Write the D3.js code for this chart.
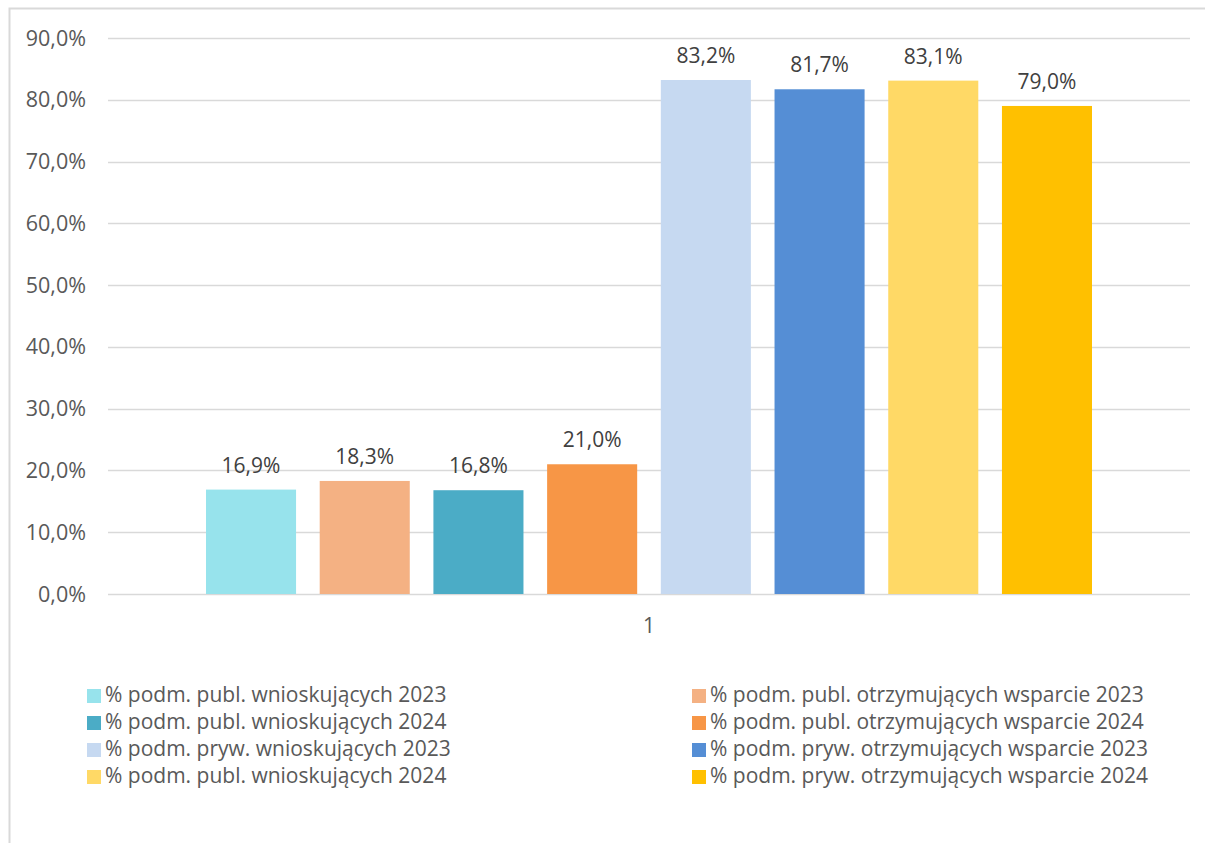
<!DOCTYPE html>
<html>
<head>
<meta charset="utf-8">
<script src="https://cdn.jsdelivr.net/npm/d3@7"></script>
<style>
  body { margin: 0; background: #fff; }
  text { font-family: "Open Sans", "Noto Sans", sans-serif; }
</style>
</head>
<body>
<div class="chart"></div>
<script>
// data
const categories = ["1"];
const seriesNames = [
  "% podm. publ. wnioskujących 2023",
  "% podm. publ. otrzymujących wsparcie 2023",
  "% podm. publ. wnioskujących 2024",
  "% podm. publ. otrzymujących wsparcie 2024",
  "% podm. pryw. wnioskujących 2023",
  "% podm. pryw. otrzymujących wsparcie 2023",
  "% podm. publ. wnioskujących 2024",
  "% podm. pryw. otrzymujących wsparcie 2024"
];
const seriesValues = [16.9, 18.3, 16.8, 21.0, 83.2, 81.7, 83.1, 79.0];
const seriesColors = ["#97e3ec", "#f4b183", "#4bacc6", "#f79646", "#c6d9f1", "#558ed5", "#ffd966", "#ffc000"];
const yTicks = [0, 10, 20, 30, 40, 50, 60, 70, 80, 90];

const width = 1205;
const height = 843;
const margin = { top: 38, bottom: 249, left: 108, right: 15 };
const fmt = v => v.toFixed(1).replace(".", ",") + "%";

const svg = d3.select('.chart')
  .append('svg')
  .attr('width', width)
  .attr('height', height);

// chart frame
svg.append("path")
  .attr("d", `M9.5,${height} V8.5 H${width}`)
  .attr("fill", "none")
  .attr("stroke", "#d9d9d9")
  .attr("stroke-width", 2);

const y = d3.scaleLinear()
  .domain([0, 90])
  .range([height - margin.bottom, margin.top]);

const x0 = d3.scaleBand()
  .domain(categories)
  .range([margin.left, width - margin.right]);

const x1 = d3.scaleBand()
  .domain(d3.range(seriesNames.length))
  .range([x0("1") + 98, x0("1") + 98 + 886])
  .paddingInner(0.208);

// gridlines
svg.append("g")
  .selectAll("line")
  .data(yTicks)
  .join("line")
  .attr("x1", margin.left)
  .attr("x2", width - margin.right)
  .attr("y1", d => Math.round(y(d)) + 0.5)
  .attr("y2", d => Math.round(y(d)) + 0.5)
  .attr("stroke", "#d9d9d9")
  .attr("stroke-width", 1.5);

// y axis labels
svg.append("g")
  .selectAll("text")
  .data(yTicks)
  .join("text")
  .attr("x", 86)
  .attr("y", d => y(d) + 7.5)
  .attr("text-anchor", "end")
  .attr("font-size", "21.5px")
  .attr("fill", "#595959")
  .text(d => fmt(d));

// bars
svg.append("g")
  .selectAll("rect")
  .data(seriesValues)
  .join("rect")
  .attr("x", (d, i) => x1(i))
  .attr("y", d => y(d))
  .attr("width", x1.bandwidth())
  .attr("height", d => y(0) - y(d))
  .attr("fill", (d, i) => seriesColors[i]);

// value labels
svg.append("g")
  .selectAll("text")
  .data(seriesValues)
  .join("text")
  .attr("x", (d, i) => x1(i) + x1.bandwidth() / 2)
  .attr("y", d => y(d) - 17)
  .attr("text-anchor", "middle")
  .attr("font-size", "21px")
  .attr("fill", "#404040")
  .text(d => fmt(d));

// category label
svg.append("text")
  .attr("x", x0("1") + x0.bandwidth() / 2)
  .attr("y", 633)
  .attr("text-anchor", "middle")
  .attr("font-size", "21px")
  .attr("fill", "#595959")
  .text(categories[0]);

// legend
const legend = svg.append("g")
  .selectAll("g")
  .data(seriesNames)
  .join("g")
  .attr("transform", (d, i) => `translate(${i % 2 ? 692 : 87},${702 + Math.floor(i / 2) * 27})`);

legend.append("rect")
  .attr("width", 14)
  .attr("height", 14)
  .attr("y", -13)
  .attr("fill", (d, i) => seriesColors[i]);

legend.append("text")
  .attr("x", 18)
  .attr("y", 0)
  .attr("font-size", "21px")
  .attr("fill", "#595959")
  .text(d => d);
</script>
</body>
</html>
